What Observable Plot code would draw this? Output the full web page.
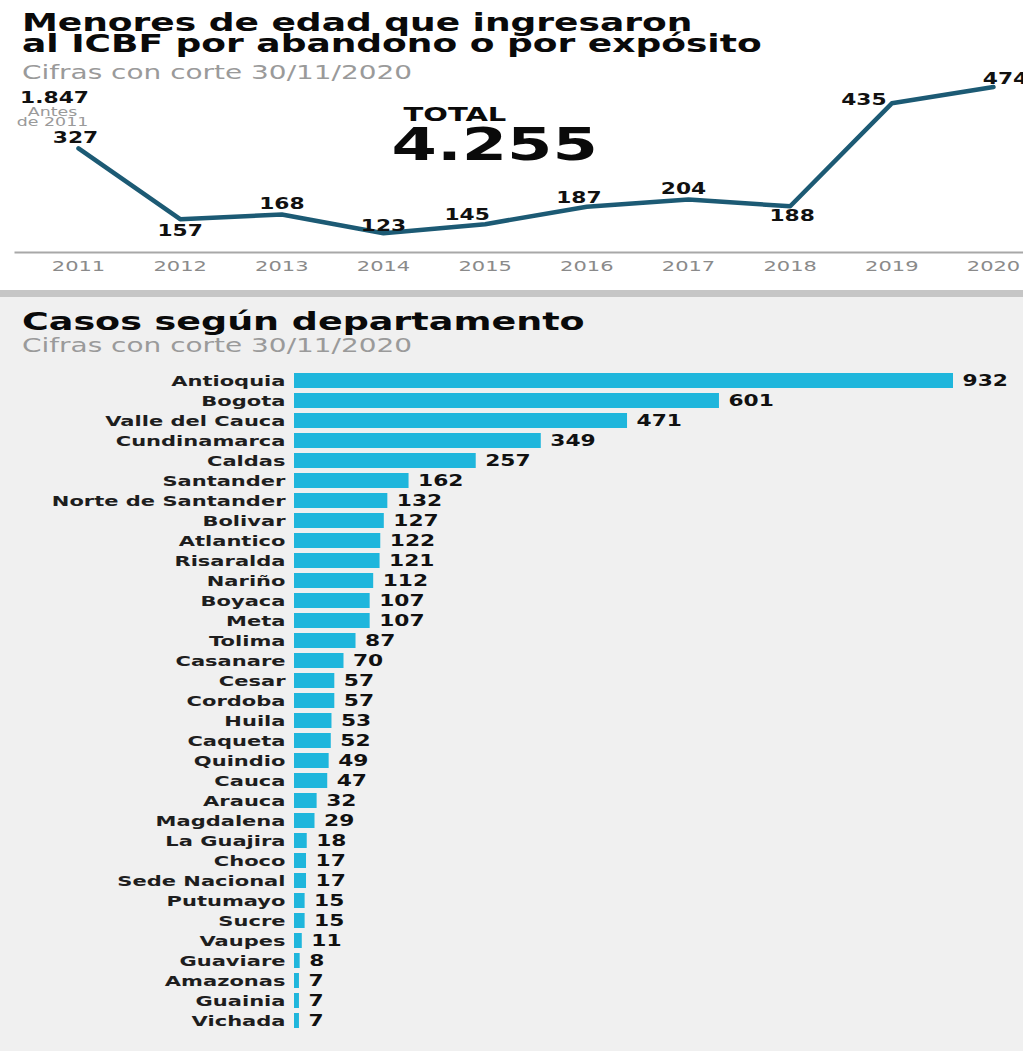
<!DOCTYPE html>
<html><head><meta charset="utf-8">
<script src="https://cdn.jsdelivr.net/npm/d3@7"></script>
<script src="https://cdn.jsdelivr.net/npm/@observablehq/plot@0.6"></script>
<style>
body{margin:0;background:#fff;}
#page{position:relative;width:1023px;height:1051px;overflow:hidden;font-family:"DejaVu Sans",sans-serif;}
.abs{position:absolute;white-space:nowrap;transform-origin:0 0;transform:scaleX(1.47);}
.plot{position:absolute;left:0;}
</style></head><body>
<div id="page">
  <div style="position:absolute;left:0;top:0;width:1023px;height:290px;background:#fff"></div>
  <div style="position:absolute;left:0;top:290px;width:1023px;height:7px;background:#c6c6c6"></div>
  <div style="position:absolute;left:0;top:297px;width:1023px;height:754px;background:#f0f0f0"></div>
  <div class="abs" style="left:22px;top:13px;font-weight:bold;font-size:24px;line-height:21px;color:#0a0a0a;transform:scaleX(1.5)">Menores de edad que ingresaron<br>al ICBF por abandono o por expósito</div>
  <div class="abs" style="left:22px;top:62px;font-size:19px;line-height:20px;color:#9a9a9a">Cifras con corte 30/11/2020</div>
  <div id="line" class="plot" style="top:82px"></div>
  <div class="abs" style="left:22px;top:310px;font-weight:bold;font-size:24px;line-height:24px;color:#0a0a0a;transform:scaleX(1.52)">Casos según departamento</div>
  <div class="abs" style="left:22px;top:335px;font-size:19px;line-height:20px;color:#9a9a9a">Cifras con corte 30/11/2020</div>
  <div id="bars" class="plot" style="top:358px"></div>
</div>
<script>
// ---- data ----
const years = [2011, 2012, 2013, 2014, 2015, 2016, 2017, 2018, 2019, 2020];
const ingresos = [327, 157, 168, 123, 145, 187, 204, 188, 435, 474];
const antesDe2011 = 1847;
const total = 4255;

const departamentos = ["Antioquia", "Bogota", "Valle del Cauca", "Cundinamarca", "Caldas", "Santander",
  "Norte de Santander", "Bolivar", "Atlantico", "Risaralda", "Nariño", "Boyaca", "Meta", "Tolima",
  "Casanare", "Cesar", "Cordoba", "Huila", "Caqueta", "Quindio", "Cauca", "Arauca", "Magdalena",
  "La Guajira", "Choco", "Sede Nacional", "Putumayo", "Sucre", "Vaupes", "Guaviare", "Amazonas",
  "Guainia", "Vichada"];
const casos = [932, 601, 471, 349, 257, 162, 132, 127, 122, 121, 112, 107, 107, 87, 70, 57, 57, 53,
  52, 49, 47, 32, 29, 18, 17, 17, 15, 15, 11, 8, 7, 7, 7];

// ---- helpers ----
const fmt = d3.formatLocale({decimal: ",", thousands: ".", grouping: [3], currency: ["$", ""]}).format(",d");
const STRETCH = 1.45;
function stretch(svg, s) {
  svg.querySelectorAll("text").forEach(t => {
    const x = +t.getAttribute("x") || 0, y = +t.getAttribute("y") || 0;
    const tr = t.getAttribute("transform") || "";
    t.setAttribute("transform", `${tr} translate(${x},${y}) scale(${s},1) translate(${-x},${-y})`);
  });
}

// ---- line chart ----
const lineData = years.map((year, i) => ({year, value: ingresos[i]}));
const labelOffset = {2011: [-3, -10], 2012: [0, 12], 2013: [0, -10], 2014: [0, -7], 2015: [-18, -9],
  2016: [-8, -8], 2017: [-5, -10], 2018: [2, 10], 2019: [-28, -3], 2020: [12, -8]};
const font = "DejaVu Sans";

const lineChart = Plot.plot({
  width: 1023, height: 200,
  marginTop: 0, marginBottom: 30, marginLeft: 15, marginRight: 0,
  style: {background: "transparent", fontFamily: font, overflow: "visible"},
  x: {domain: [years[0], years[years.length - 1]], insetLeft: 63, insetRight: 30, label: null},
  y: {domain: [77, 485], axis: null},
  marks: [
    Plot.frame({anchor: "bottom", stroke: "#a8a8a8", strokeWidth: 2}),
    Plot.axisX({ticks: years, tickFormat: d => String(d), tickSize: 0, tickPadding: 8,
      fontSize: 14.5, fill: "#8a8a8a", label: null}),
    Plot.line(lineData, {x: "year", y: "value", stroke: "#1c5a74", strokeWidth: 4.5,
      strokeLinejoin: "round", strokeLinecap: "round"}),
    ...lineData.map(d => Plot.text([d], {x: "year", y: "value", text: d => String(d.value),
      dx: labelOffset[d.year][0], dy: labelOffset[d.year][1],
      fontSize: 15, fontWeight: "bold", fill: "#111"})),
    Plot.text([antesDe2011], {frameAnchor: "top-left", text: d => fmt(d), dx: 39, dy: 16,
      textAnchor: "middle", lineAnchor: "middle", fontSize: 15, fontWeight: "bold", fill: "#111"}),
    Plot.text(["Antes\nde 2011"], {frameAnchor: "top-left", text: d => d, dx: 37, dy: 35,
      textAnchor: "middle", lineAnchor: "middle", fontSize: 12, lineHeight: 0.9, fill: "#9a9a9a"}),
    Plot.text(["TOTAL"], {frameAnchor: "top-left", text: d => d, dx: 388, dy: 32,
      textAnchor: "start", lineAnchor: "middle", fontSize: 20, fontWeight: "bold", fill: "#0a0a0a"}),
    Plot.text([total], {frameAnchor: "top-left", text: d => fmt(d), dx: 376, dy: 63,
      textAnchor: "start", lineAnchor: "middle", fontSize: 45, fontWeight: "bold", fill: "#0a0a0a"})
  ]
});
stretch(lineChart, STRETCH);
document.getElementById("line").append(lineChart);

// ---- bar chart ----
const barData = departamentos.map((dep, i) => ({dep, n: casos[i]}));
const barChart = Plot.plot({
  width: 1023, height: 690,
  marginTop: 3.5, marginBottom: 8, marginLeft: 294, marginRight: 70,
  style: {background: "transparent", fontFamily: font, overflow: "visible"},
  x: {domain: [0, d3.max(casos)], axis: null},
  y: {domain: departamentos, padding: 0.27, label: null},
  marks: [
    Plot.barX(barData, {x: "n", y: "dep", fill: "#1fb6dc"}),
    Plot.axisY({tickSize: 0, tickPadding: 9, fontSize: 14.5, fontWeight: "bold", fill: "#1e1e1e", label: null}),
    Plot.text(barData, {x: "n", y: "dep", text: d => String(d.n), textAnchor: "start", dx: 9,
      fontSize: 15, fontWeight: "bold", fill: "#111"})
  ]
});
stretch(barChart, STRETCH);
document.getElementById("bars").append(barChart);
</script>
</body></html>
